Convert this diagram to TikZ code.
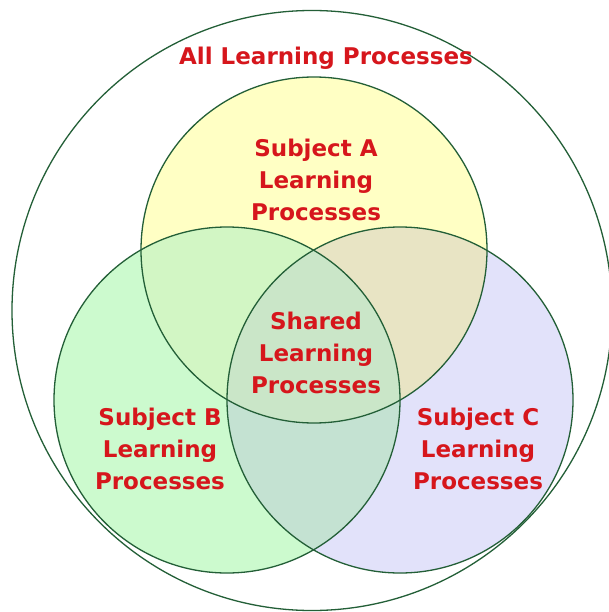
\documentclass[tikz,border=0pt]{standalone}
\usepackage{fontspec}
\setmainfont{DejaVu Sans}
\begin{document}
\begin{tikzpicture}[x=1pt,y=-1pt,
  ring/.style={draw=edgegreen,line width=1.3pt},
  lbl/.style={text=lblred,font=\bfseries\fontsize{23}{32}\selectfont,align=center,inner sep=0pt}]
\definecolor{edgegreen}{RGB}{35,95,55}
\definecolor{lblred}{RGB}{214,22,28}
\definecolor{fillA}{RGB}{255,255,196}
\definecolor{fillB}{RGB}{204,250,206}
\definecolor{fillC}{RGB}{226,226,250}
\definecolor{fillAB}{RGB}{210,246,196}
\definecolor{fillAC}{RGB}{232,228,196}
\definecolor{fillBC}{RGB}{196,226,210}
\definecolor{fillABC}{RGB}{202,230,200}
\useasboundingbox (0,0) rectangle (609,612);
\clip (0,0) rectangle (609,612);
\fill[white] (0,0) rectangle (609,612);
% circle centres
\coordinate (oc) at (312,310.5);
\coordinate (ca) at (314,250);
\coordinate (cb) at (227,400);
\coordinate (cc) at (400,400);
\def\rr{173}
% single regions
\fill[fillA] (ca) circle[radius=\rr];
\fill[fillB] (cb) circle[radius=\rr];
\fill[fillC] (cc) circle[radius=\rr];
% pairwise overlaps
\begin{scope}\clip (ca) circle[radius=\rr];\fill[fillAB] (cb) circle[radius=\rr];\end{scope}
\begin{scope}\clip (ca) circle[radius=\rr];\fill[fillAC] (cc) circle[radius=\rr];\end{scope}
\begin{scope}\clip (cb) circle[radius=\rr];\fill[fillBC] (cc) circle[radius=\rr];\end{scope}
% triple overlap
\begin{scope}\clip (ca) circle[radius=\rr];\clip (cb) circle[radius=\rr];\fill[fillABC] (cc) circle[radius=\rr];\end{scope}
% outlines
\draw[ring] (oc) circle[radius=300];
\draw[ring] (ca) circle[radius=\rr];
\draw[ring] (cb) circle[radius=\rr];
\draw[ring] (cc) circle[radius=\rr];
% labels
\node[lbl] (all) at (326,58) {All Learning Processes};
\node[lbl] (la) at (316,180) {Subject A\\Learning\\Processes};
\node[lbl] (ls) at (316,353) {Shared\\Learning\\Processes};
\node[lbl] (lb) at (160,449) {Subject B\\Learning\\Processes};
\node[lbl] (lc) at (478,449) {Subject C\\Learning\\Processes};
\end{tikzpicture}
\end{document}
